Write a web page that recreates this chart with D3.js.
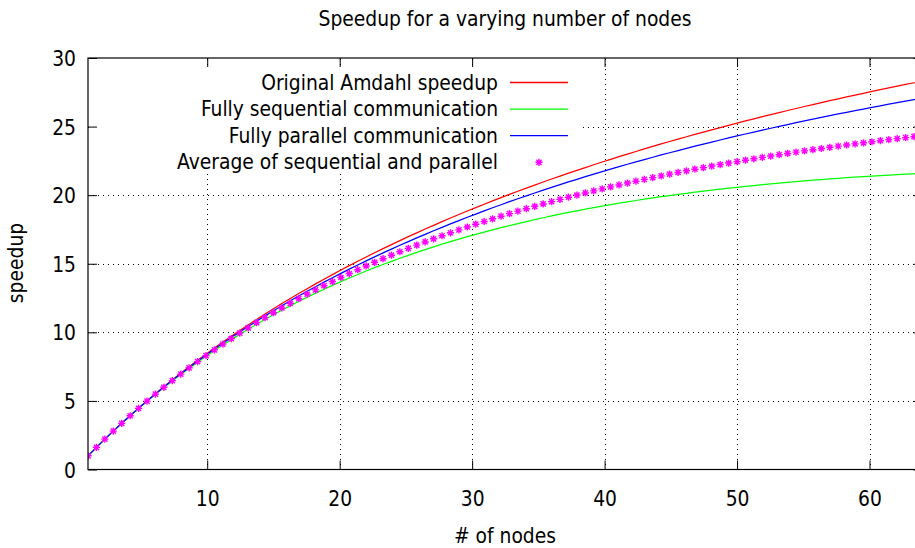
<!DOCTYPE html>
<html>
<head>
<meta charset="utf-8">
<script src="https://cdn.jsdelivr.net/npm/d3@7"></script>
<style>
  html, body { margin: 0; padding: 0; background: #fff; }
  svg { display: block; }
  text { font-family: "DejaVu Sans Condensed", "DejaVu Sans", sans-serif; font-stretch: condensed; fill: #000; }
</style>
</head>
<body>
<svg id="chart" width="915" height="548"></svg>
<script>
// Sample points along the node axis (100 samples from 1 to 64)
const nodes = [
  1.000, 1.636, 2.273, 2.909, 3.545, 4.182, 4.818, 5.455, 6.091, 6.727,
  7.364, 8.000, 8.636, 9.273, 9.909, 10.545, 11.182, 11.818, 12.455, 13.091,
  13.727, 14.364, 15.000, 15.636, 16.273, 16.909, 17.545, 18.182, 18.818, 19.455,
  20.091, 20.727, 21.364, 22.000, 22.636, 23.273, 23.909, 24.545, 25.182, 25.818,
  26.455, 27.091, 27.727, 28.364, 29.000, 29.636, 30.273, 30.909, 31.545, 32.182,
  32.818, 33.455, 34.091, 34.727, 35.364, 36.000, 36.636, 37.273, 37.909, 38.545,
  39.182, 39.818, 40.455, 41.091, 41.727, 42.364, 43.000, 43.636, 44.273, 44.909,
  45.545, 46.182, 46.818, 47.455, 48.091, 48.727, 49.364, 50.000, 50.636, 51.273,
  51.909, 52.545, 53.182, 53.818, 54.455, 55.091, 55.727, 56.364, 57.000, 57.636,
  58.273, 58.909, 59.545, 60.182, 60.818, 61.455, 62.091, 62.727, 63.364, 64.000
];

// Original Amdahl speedup
const amdahl = [
  1.000, 1.616, 2.216, 2.802, 3.374, 3.932, 4.476, 5.008, 5.528, 6.036,
  6.532, 7.018, 7.492, 7.956, 8.410, 8.855, 9.290, 9.716, 10.133, 10.542,
  10.942, 11.334, 11.719, 12.096, 12.465, 12.828, 13.183, 13.532, 13.874, 14.210,
  14.540, 14.863, 15.181, 15.493, 15.800, 16.101, 16.396, 16.687, 16.973, 17.254,
  17.530, 17.802, 18.069, 18.332, 18.590, 18.844, 19.094, 19.340, 19.583, 19.821,
  20.056, 20.287, 20.514, 20.738, 20.959, 21.177, 21.391, 21.602, 21.810, 22.014,
  22.216, 22.416, 22.612, 22.805, 22.996, 23.184, 23.369, 23.553, 23.733, 23.911,
  24.087, 24.260, 24.431, 24.600, 24.766, 24.930, 25.092, 25.253, 25.410, 25.567,
  25.721, 25.873, 26.023, 26.172, 26.318, 26.463, 26.606, 26.747, 26.887, 27.025,
  27.161, 27.296, 27.429, 27.560, 27.690, 27.819, 27.946, 28.072, 28.196, 28.318
];

// Fully sequential communication
const sequential = [
  1.000, 1.615, 2.214, 2.797, 3.364, 3.916, 4.453, 4.975, 5.483, 5.977,
  6.458, 6.925, 7.380, 7.821, 8.251, 8.669, 9.074, 9.469, 9.852, 10.225,
  10.588, 10.940, 11.282, 11.615, 11.938, 12.253, 12.558, 12.855, 13.143, 13.424,
  13.697, 13.961, 14.219, 14.469, 14.712, 14.948, 15.177, 15.400, 15.617, 15.828,
  16.032, 16.231, 16.424, 16.612, 16.794, 16.971, 17.143, 17.310, 17.473, 17.630,
  17.784, 17.932, 18.076, 18.217, 18.353, 18.485, 18.613, 18.738, 18.859, 18.976,
  19.090, 19.200, 19.308, 19.412, 19.513, 19.611, 19.706, 19.798, 19.888, 19.974,
  20.058, 20.139, 20.218, 20.294, 20.368, 20.440, 20.509, 20.576, 20.641, 20.704,
  20.765, 20.823, 20.881, 20.936, 20.989, 21.040, 21.089, 21.137, 21.183, 21.228,
  21.271, 21.312, 21.352, 21.390, 21.427, 21.462, 21.497, 21.529, 21.561, 21.590
];

// Fully parallel communication
const parallel = [
  1.000, 1.615, 2.215, 2.799, 3.368, 3.923, 4.464, 4.992, 5.507, 6.009,
  6.499, 6.978, 7.445, 7.901, 8.348, 8.784, 9.210, 9.627, 10.033, 10.432,
  10.821, 11.202, 11.576, 11.941, 12.299, 12.649, 12.992, 13.328, 13.657, 13.980,
  14.297, 14.607, 14.911, 15.209, 15.502, 15.789, 16.071, 16.347, 16.618, 16.885,
  17.147, 17.404, 17.656, 17.904, 18.147, 18.387, 18.622, 18.853, 19.080, 19.304,
  19.523, 19.739, 19.951, 20.160, 20.366, 20.569, 20.768, 20.964, 21.157, 21.346,
  21.533, 21.717, 21.898, 22.077, 22.253, 22.425, 22.596, 22.764, 22.930, 23.093,
  23.254, 23.412, 23.568, 23.722, 23.874, 24.023, 24.171, 24.317, 24.460, 24.602,
  24.742, 24.879, 25.016, 25.150, 25.282, 25.412, 25.541, 25.669, 25.794, 25.919,
  26.042, 26.162, 26.281, 26.399, 26.516, 26.631, 26.745, 26.857, 26.967, 27.076
];

// Average of sequential and parallel
const average = [
  1.000, 1.615, 2.214, 2.798, 3.366, 3.920, 4.459, 4.984, 5.495, 5.993,
  6.478, 6.952, 7.413, 7.861, 8.299, 8.726, 9.142, 9.548, 9.943, 10.328,
  10.705, 11.071, 11.429, 11.778, 12.118, 12.451, 12.775, 13.092, 13.400, 13.702,
  13.997, 14.284, 14.565, 14.839, 15.107, 15.369, 15.624, 15.874, 16.118, 16.357,
  16.590, 16.818, 17.040, 17.258, 17.471, 17.679, 17.883, 18.082, 18.277, 18.467,
  18.654, 18.836, 19.014, 19.189, 19.360, 19.527, 19.691, 19.851, 20.008, 20.161,
  20.311, 20.459, 20.603, 20.744, 20.883, 21.018, 21.151, 21.281, 21.409, 21.533,
  21.656, 21.776, 21.893, 22.008, 22.121, 22.232, 22.340, 22.446, 22.551, 22.653,
  22.754, 22.851, 22.949, 23.043, 23.136, 23.226, 23.315, 23.403, 23.489, 23.574,
  23.657, 23.737, 23.817, 23.895, 23.971, 24.047, 24.121, 24.193, 24.264, 24.333
];

const seriesLabels = [
  "Original Amdahl speedup",
  "Fully sequential communication",
  "Fully parallel communication",
  "Average of sequential and parallel"
];
const seriesColors = ["#ff0000", "#00ff00", "#0000ff", "#ff00ff"];

const xTicks = [10, 20, 30, 40, 50, 60];
const yTicks = [0, 5, 10, 15, 20, 25, 30];

const titleText = "Speedup for a varying number of nodes";
const xTitle = "# of nodes";
const yTitle = "speedup";

// ---- layout ----
const plotLeft = 88, plotRight = 922.5, plotTop = 58, plotBottom = 469.5;
const fontSize = 20.8;

const svg = d3.select("#chart");
svg.append("rect").attr("width", 915).attr("height", 548).attr("fill", "#fff");

const x = d3.scaleLinear().domain([1, 64]).range([plotLeft, plotRight]);
const y = d3.scaleLinear().domain([0, 30]).range([plotBottom, plotTop]);

svg.append("defs").append("clipPath").attr("id", "plot-clip")
  .append("rect").attr("x", plotLeft).attr("y", plotTop)
  .attr("width", plotRight - plotLeft).attr("height", plotBottom - plotTop);

// dotted grid
const grid = svg.append("g").attr("stroke", "#000").attr("stroke-width", 1)
  .attr("stroke-dasharray", "1,4").attr("shape-rendering", "crispEdges");
grid.selectAll("line.gx").data(xTicks).join("line").attr("class", "gx")
  .attr("x1", d => Math.round(x(d)) + 0.5).attr("x2", d => Math.round(x(d)) + 0.5)
  .attr("y1", y(0)).attr("y2", y(30));
grid.selectAll("line.gy").data(yTicks.filter(d => d > 0 && d < 30)).join("line").attr("class", "gy")
  .attr("y1", d => Math.round(y(d)) + 0.5).attr("y2", d => Math.round(y(d)) + 0.5)
  .attr("x1", plotLeft).attr("x2", plotRight);

// opaque key background
const keyRight = 498, keyTop = 67, keyRowGap = 26.6, keyFirstBaseline = 89.5;
svg.append("rect").attr("x", 89).attr("y", keyTop).attr("width", 490).attr("height", 107)
  .attr("fill", "#fff");

// curves
const plot = svg.append("g").attr("clip-path", "url(#plot-clip)");
const line = d3.line().x((d, i) => x(nodes[i])).y(d => y(d));
[amdahl, sequential, parallel].forEach((vals, k) => {
  plot.append("path").datum(vals)
    .attr("d", line).attr("fill", "none")
    .attr("stroke", seriesColors[k]).attr("stroke-width", 1.25);
});

// asterisk marker (plus + cross)
const star = "M-3.6,0H3.6M0,-3.6V3.6M-2.6,-2.6L2.6,2.6M-2.6,2.6L2.6,-2.6";
plot.selectAll("path.avg").data(average).join("path").attr("class", "avg")
  .attr("transform", (d, i) => `translate(${x(nodes[i])},${y(d)})`)
  .attr("d", star).attr("fill", "none")
  .attr("stroke", seriesColors[3]).attr("stroke-width", 1.4);

// key
const key = svg.append("g");
seriesLabels.forEach((label, k) => {
  const base = keyFirstBaseline + k * keyRowGap;
  key.append("text").attr("x", keyRight).attr("y", base)
    .attr("text-anchor", "end").attr("font-size", fontSize).text(label);
  const cy = base - 7;
  if (k < 3) {
    key.append("path").attr("d", `M510,${cy}H568`)
      .attr("fill", "none").attr("stroke", seriesColors[k]).attr("stroke-width", 1.3);
  } else {
    key.append("path").attr("transform", `translate(539,${cy})`).attr("d", star)
      .attr("fill", "none").attr("stroke", seriesColors[k]).attr("stroke-width", 1.4);
  }
});

// axes with inward ticks
const axisFont = g => g.selectAll("text").attr("font-size", fontSize)
  .attr("font-family", null).attr("fill", "#000");

const yAxis = svg.append("g").attr("transform", `translate(${plotLeft},0)`)
  .call(d3.axisLeft(y).tickValues(yTicks).tickSizeInner(-9).tickSizeOuter(0).tickPadding(12));
yAxis.select(".domain").remove();
axisFont(yAxis);
yAxis.selectAll("text").attr("dy", "0.36em");

const xAxis = svg.append("g").attr("transform", `translate(0,${plotBottom})`)
  .call(d3.axisBottom(x).tickValues(xTicks).tickSizeInner(-9).tickSizeOuter(0));
xAxis.select(".domain").remove();
axisFont(xAxis);
xAxis.selectAll("text").attr("y", 36).attr("dy", 0);

const xTopAxis = svg.append("g").attr("transform", `translate(0,${plotTop})`)
  .call(d3.axisTop(x).tickValues(xTicks).tickSizeInner(-9).tickSizeOuter(0).tickFormat(""));
xTopAxis.select(".domain").remove();

const yRightAxis = svg.append("g").attr("transform", `translate(${plotRight},0)`)
  .call(d3.axisRight(y).tickValues(yTicks).tickSizeInner(-9).tickSizeOuter(0).tickFormat(""));
yRightAxis.select(".domain").remove();

svg.selectAll(".tick line").attr("stroke", "#000");

// border
svg.append("rect").attr("x", plotLeft).attr("y", plotTop)
  .attr("width", plotRight - plotLeft).attr("height", plotBottom - plotTop)
  .attr("fill", "none").attr("stroke", "#000").attr("stroke-width", 1.2);

// titles
svg.append("text").attr("x", 505).attr("y", 26).attr("text-anchor", "middle")
  .attr("font-size", fontSize).text(titleText);
svg.append("text").attr("x", 505).attr("y", 543).attr("text-anchor", "middle")
  .attr("font-size", fontSize).text(xTitle);
svg.append("text").attr("transform", "translate(23,263) rotate(-90)")
  .attr("text-anchor", "middle").attr("font-size", fontSize).text(yTitle);
</script>
</body>
</html>
